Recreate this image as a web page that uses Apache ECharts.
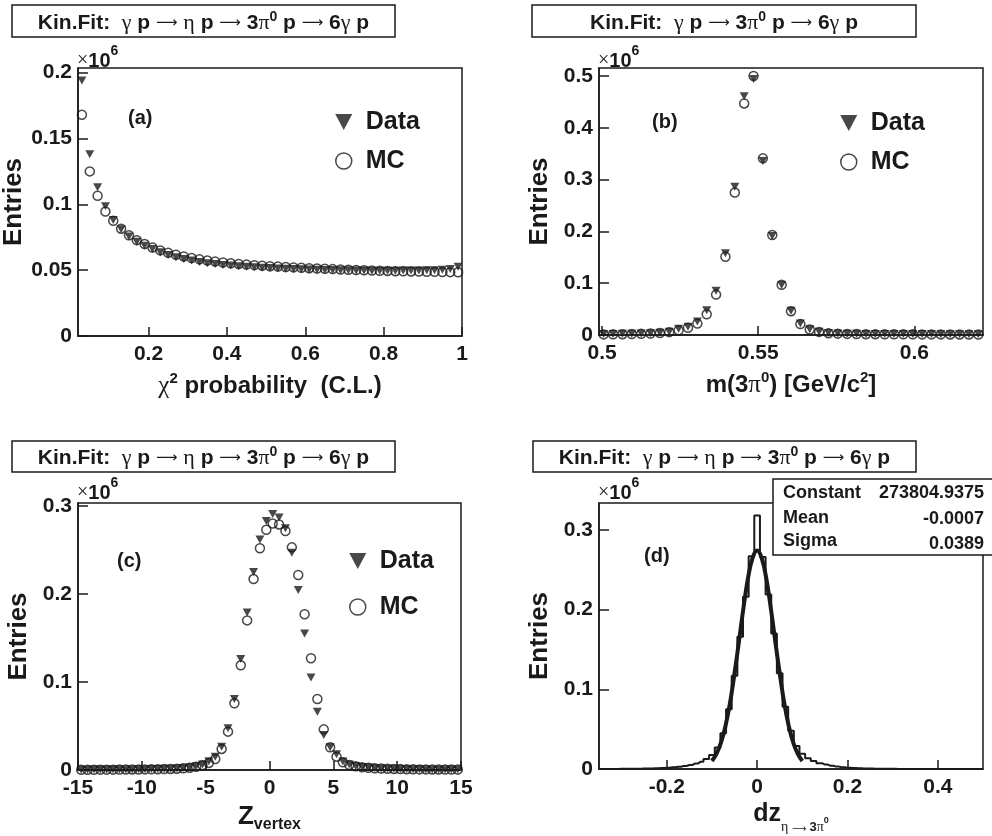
<!DOCTYPE html>
<html><head><meta charset="utf-8">
<script src="https://cdn.jsdelivr.net/npm/echarts@6/dist/echarts.min.js"></script>
<style>html,body{margin:0;padding:0;background:#fff}#c{width:992px;height:836px}</style>
</head><body><div id="c"></div>
<script>
// ---- panel (a): chi2 probability ----
const chiX = [0.03,0.05,0.07,0.09,0.11,0.13,0.15,0.17,0.19,0.21,0.23,0.25,0.27,0.29,0.31,0.33,0.35,0.37,0.39,0.41,0.43,0.45,0.47,0.49,0.51,0.53,0.55,0.57,0.59,0.61,0.63,0.65,0.67,0.69,0.71,0.73,0.75,0.77,0.79,0.81,0.83,0.85,0.87,0.89,0.91,0.93,0.95,0.97,0.99];
const chiData = [0.194,0.138,0.113,0.0985,0.088,0.081,0.0755,0.0715,0.0685,0.066,0.0635,0.0615,0.0598,0.0585,0.0573,0.0562,0.0553,0.0546,0.054,0.0535,0.053,0.0526,0.0522,0.0519,0.0516,0.0513,0.0511,0.0509,0.0507,0.0505,0.0503,0.0502,0.0501,0.05,0.0499,0.0498,0.0497,0.0496,0.0496,0.0496,0.0496,0.0497,0.0497,0.0498,0.0499,0.05,0.0503,0.0508,0.0525];
const chiMC = [0.168,0.125,0.1065,0.0945,0.0875,0.0815,0.0765,0.0728,0.0698,0.0672,0.065,0.0632,0.0617,0.0604,0.0592,0.0582,0.0573,0.0565,0.0558,0.0552,0.0547,0.0542,0.0538,0.0534,0.053,0.0527,0.0524,0.0521,0.0518,0.0515,0.0512,0.051,0.0508,0.0505,0.0503,0.0501,0.0499,0.0497,0.0495,0.0494,0.0492,0.0491,0.049,0.0489,0.0488,0.0487,0.0486,0.0485,0.0484];
const chiXTicks = [0.2,0.4,0.6,0.8,1];
const chiYTicks = [0,0.05,0.1,0.15,0.2];

// ---- panel (b): m(3pi0) ----
const mX = [0.5005,0.5035,0.5065,0.5095,0.5125,0.5155,0.5185,0.5215,0.5245,0.5275,0.5305,0.5335,0.5365,0.5395,0.5425,0.5455,0.5485,0.5515,0.5545,0.5575,0.5605,0.5635,0.5665,0.5695,0.5725,0.5755,0.5785,0.5815,0.5845,0.5875,0.5905,0.5935,0.5965,0.5995,0.6025,0.6055,0.6085,0.6115,0.6145,0.6175,0.6205];
const mData = [0.002,0.002,0.0022,0.0025,0.003,0.0035,0.0045,0.0064,0.012,0.016,0.026,0.048,0.0856,0.158,0.286,0.461,0.494,0.336,0.191,0.0965,0.047,0.022,0.011,0.0065,0.004,0.003,0.0025,0.0022,0.002,0.002,0.002,0.0019,0.0018,0.0018,0.0017,0.0017,0.0016,0.0016,0.0015,0.0015,0.0015];
const mMC = [0.0012,0.0013,0.0015,0.0018,0.0022,0.0028,0.0037,0.0055,0.009,0.014,0.022,0.040,0.078,0.151,0.275,0.447,0.500,0.341,0.193,0.097,0.046,0.021,0.0105,0.006,0.0035,0.0026,0.0021,0.0018,0.0016,0.0015,0.0014,0.0014,0.0013,0.0013,0.0012,0.0012,0.0012,0.0011,0.0011,0.0011,0.001];
const mXTicks = [0.5,0.55,0.6];
const mYTicks = [0,0.1,0.2,0.3,0.4,0.5];

// ---- panel (c): Z vertex ----
const zX = [-14.75,-14.25,-13.75,-13.25,-12.75,-12.25,-11.75,-11.25,-10.75,-10.25,-9.75,-9.25,-8.75,-8.25,-7.75,-7.25,-6.75,-6.25,-5.75,-5.25,-4.75,-4.25,-3.75,-3.25,-2.75,-2.25,-1.75,-1.25,-0.75,-0.25,0.25,0.75,1.25,1.75,2.25,2.75,3.25,3.75,4.25,4.75,5.25,5.75,6.25,6.75,7.25,7.75,8.25,8.75,9.25,9.75,10.25,10.75,11.25,11.75,12.25,12.75,13.25,13.75,14.25,14.75];
const zData = [0.0004,0.0004,0.0005,0.0005,0.0005,0.0006,0.0006,0.0007,0.0007,0.0008,0.0009,0.001,0.0011,0.0013,0.0015,0.0018,0.0023,0.003,0.0042,0.0062,0.01,0.0151,0.0265,0.0473,0.0807,0.126,0.179,0.225,0.262,0.283,0.291,0.287,0.2746,0.247,0.2045,0.155,0.105,0.0663,0.0398,0.0258,0.0178,0.0098,0.0062,0.0045,0.0034,0.0027,0.0022,0.0018,0.0015,0.0013,0.0011,0.001,0.0009,0.0008,0.0007,0.0007,0.0006,0.0006,0.0005,0.0005];
const zMC = [0.0003,0.0003,0.0003,0.0004,0.0004,0.0004,0.0005,0.0005,0.0006,0.0006,0.0007,0.0008,0.0009,0.001,0.0012,0.0015,0.0019,0.0026,0.0037,0.0055,0.008,0.0125,0.0239,0.0436,0.0758,0.119,0.17,0.217,0.252,0.273,0.28,0.279,0.2716,0.253,0.2216,0.177,0.127,0.0807,0.0462,0.0258,0.0151,0.0087,0.0058,0.0042,0.0032,0.0025,0.002,0.0017,0.0014,0.0012,0.001,0.0009,0.0008,0.0007,0.0007,0.0006,0.0006,0.0005,0.0005,0.0005];
const zXTicks = [-15,-10,-5,0,5,10,15];
const zYTicks = [0,0.1,0.2,0.3];

// ---- panel (d): dz histogram + gaussian fit ----
const dzX = [-0.35,-0.3375,-0.325,-0.3125,-0.3,-0.2875,-0.275,-0.2625,-0.25,-0.2375,-0.225,-0.2125,-0.2,-0.1875,-0.175,-0.1625,-0.15,-0.1375,-0.125,-0.1125,-0.1,-0.0875,-0.075,-0.0625,-0.05,-0.0375,-0.025,-0.0125,0,0.0125,0.025,0.0375,0.05,0.0625,0.075,0.0875,0.1,0.1125,0.125,0.1375,0.15,0.1625,0.175,0.1875,0.2,0.2125,0.225,0.2375,0.25,0.2625,0.275,0.2875,0.3,0.3125,0.325,0.3375,0.35,0.3625,0.375,0.3875,0.4,0.4125,0.425,0.4375,0.45,0.4625,0.475,0.4875,0.5];
const dzHist = [0,0.0001,0.0001,0.0001,0.0002,0.0002,0.0003,0.0004,0.0005,0.0007,0.0009,0.0012,0.0016,0.0021,0.0028,0.0037,0.005,0.0068,0.0092,0.0125,0.0175,0.027,0.045,0.075,0.117,0.166,0.216,0.267,0.318,0.266,0.219,0.17,0.12,0.078,0.048,0.029,0.019,0.0135,0.01,0.0073,0.0055,0.0041,0.003,0.0022,0.0016,0.0012,0.0009,0.0007,0.0005,0.0004,0.0003,0.0002,0.0002,0.0001,0.0001,0.0001,0.0001,0.0001,0,0,0,0,0,0,0,0,0,0,0];
const fitX = [-0.1,-0.09,-0.08,-0.07,-0.06,-0.05,-0.04,-0.03,-0.02,-0.01,0,0.01,0.02,0.03,0.04,0.05,0.06,0.07,0.08,0.09,0.1];
const fitY = [0.010,0.019,0.033,0.054,0.083,0.120,0.161,0.203,0.240,0.265,0.274,0.265,0.240,0.203,0.161,0.120,0.083,0.054,0.033,0.019,0.010];
const dzXTicks = [-0.2,0,0.2,0.4];
const dzYTicks = [0,0.1,0.2,0.3];
const fitParams = [['Constant','273804.9375'],['Mean','-0.0007'],['Sigma','0.0389']];

const INK = '#1a1a1a';
const SANS = 'Liberation Sans, Arial, Helvetica, sans-serif';
const SERIF = 'Liberation Serif, Times New Roman, serif';
const ARROW = 'DejaVu Sans, sans-serif';
const zip = (xs, ys) => xs.map((x, i) => [x, ys[i]]);

const nameRich = {
  b: {fontFamily: SANS, fontWeight: 'bold', fontSize: 24, lineHeight: 30, color: INK},
  g: {fontFamily: SERIF, fontSize: 25, lineHeight: 30, color: INK},
  s: {fontFamily: SANS, fontWeight: 'bold', fontSize: 15, lineHeight: 10, verticalAlign: 'top', color: INK},
  z: {fontFamily: SANS, fontWeight: 'bold', fontSize: 26, lineHeight: 32, color: INK},
  sub: {fontFamily: SANS, fontWeight: 'bold', fontSize: 16, lineHeight: 14, verticalAlign: 'bottom', color: INK},
  d: {fontFamily: SANS, fontWeight: 'bold', fontSize: 25, lineHeight: 40, color: INK},
  sg: {fontFamily: SERIF, fontSize: 14, lineHeight: 14, verticalAlign: 'bottom', color: INK},
  sa: {fontFamily: ARROW, fontSize: 10, lineHeight: 14, verticalAlign: 'bottom', color: INK},
  sb: {fontFamily: SANS, fontWeight: 'bold', fontSize: 13, lineHeight: 14, verticalAlign: 'bottom', color: INK},
  ss: {fontFamily: SANS, fontWeight: 'bold', fontSize: 9, lineHeight: 26, height: 26, verticalAlign: 'bottom', color: INK}
};

function xAxis(gi, min, max, ticks, name, gap) {
  return {
    type: 'value', gridIndex: gi, min, max,
    axisLine: {show: true, onZero: false, lineStyle: {color: INK, width: 1.5}},
    axisTick: {show: true, inside: true, length: 9, customValues: ticks, lineStyle: {color: INK, width: 1.5}},
    axisLabel: {customValues: ticks, margin: 8, color: INK, fontFamily: SANS, fontWeight: 'bold', fontSize: 21},
    splitLine: {show: false},
    name, nameLocation: 'middle', nameGap: gap,
    nameTextStyle: {rich: nameRich}
  };
}
function yAxis(gi, max, ticks) {
  return {
    type: 'value', gridIndex: gi, min: 0, max,
    axisLine: {show: true, onZero: false, lineStyle: {color: INK, width: 1.5}},
    axisTick: {show: true, inside: true, length: 10, customValues: ticks, lineStyle: {color: INK, width: 1.5}},
    axisLabel: {customValues: ticks, margin: 6, color: INK, fontFamily: SANS, fontWeight: 'bold', fontSize: 21},
    splitLine: {show: false},
    name: 'Entries', nameLocation: 'middle', nameGap: 46,
    nameTextStyle: {color: INK, fontFamily: SANS, fontWeight: 'bold', fontSize: 26}
  };
}
function dataSeries(gi, xs, ys) {
  return {name: 'Data', type: 'scatter', xAxisIndex: gi, yAxisIndex: gi, data: zip(xs, ys),
    symbol: 'triangle', symbolRotate: 180, symbolSize: [9, 8], itemStyle: {color: INK}, silent: true, z: 3};
}
function mcSeries(gi, xs, ys) {
  return {name: 'MC', type: 'scatter', xAxisIndex: gi, yAxisIndex: gi, data: zip(xs, ys),
    symbol: 'circle', symbolSize: 9, itemStyle: {color: 'rgba(0,0,0,0)', borderColor: INK, borderWidth: 1.5}, silent: true, z: 4};
}
function legend(left, top, gap) {
  return {
    left, top, orient: 'vertical', itemWidth: 34, itemHeight: 16, itemGap: gap, selectedMode: false,
    textStyle: {color: INK, fontFamily: SANS, fontWeight: 'bold', fontSize: 25, lineHeight: 26},
    data: [
      {name: 'Data', icon: 'path://M0,0L16,0L8,15Z', itemStyle: {color: INK}},
      {name: 'MC', icon: 'circle', itemStyle: {color: 'rgba(0,0,0,0)', borderColor: INK, borderWidth: 1.5}}
    ]
  };
}

const tRich = {
  b: {fontFamily: SANS, fontWeight: 'bold', fontSize: 21, lineHeight: 26, fill: INK},
  g: {fontFamily: SERIF, fontSize: 22, lineHeight: 26, fill: INK},
  a: {fontFamily: ARROW, fontSize: 15, lineHeight: 26, fill: INK},
  s: {fontFamily: SANS, fontWeight: 'bold', fontSize: 14, lineHeight: 13, verticalAlign: 'top', fill: INK}
};
const titleA = '{b|Kin.Fit:  }{g|γ}{b| p }{a|⟶}{b| }{g|η}{b| p }{a|⟶}{b| 3}{g|π}{s|0}{b| p }{a|⟶}{b| 6}{g|γ}{b| p}';
const titleB = '{b|Kin.Fit:  }{g|γ}{b| p }{a|⟶}{b| 3}{g|π}{s|0}{b| p }{a|⟶}{b| 6}{g|γ}{b| p}';

function titleBox(x, y, w, h, text) {
  return [
    {type: 'rect', shape: {x, y, width: w, height: h}, style: {fill: '#fff', stroke: INK, lineWidth: 1.5}},
    {type: 'text', x: x + w / 2, y: y + h / 2 + 2, style: {text, rich: tRich, align: 'center', verticalAlign: 'middle', textAlign: 'center', textVerticalAlign: 'middle'}}
  ];
}
const eRich = {
  m: {fontFamily: SERIF, fontSize: 20, lineHeight: 34, fill: INK},
  b: {fontFamily: SANS, fontWeight: 'bold', fontSize: 20, lineHeight: 34, fill: INK},
  s: {fontFamily: SANS, fontWeight: 'bold', fontSize: 14, lineHeight: 8, verticalAlign: 'top', fill: INK}
};
function expo(x, y) {
  return {type: 'text', x, y, style: {text: '{m|×}{b|10}{s|6}', rich: eRich, align: 'left', verticalAlign: 'middle', textAlign: 'left', textVerticalAlign: 'middle'}};
}
function plain(x, y, text, size, align) {
  return {type: 'text', x, y, z: 101, style: {text, fill: INK, font: 'bold ' + size + 'px ' + SANS, align: align || 'left', verticalAlign: 'middle', textAlign: align || 'left', textVerticalAlign: 'middle'}};
}

const graphics = [].concat(
  titleBox(12, 5, 383, 32, titleA),
  titleBox(532, 5, 384, 32, titleB),
  titleBox(12, 441, 383, 31, titleA),
  titleBox(533, 441, 383, 31, titleA),
  [expo(77, 61), expo(598, 61), expo(77, 493), expo(598, 493)],
  [plain(128, 118, '(a)', 20), plain(652, 122, '(b)', 20), plain(117, 561, '(c)', 20), plain(644, 556, '(d)', 20)],
  [{type: 'rect', z: 100, shape: {x: 773, y: 479, width: 230, height: 76}, style: {fill: '#fff', stroke: INK, lineWidth: 1.5}}],
  fitParams.map((p, i) => plain(783, [493, 518, 541][i], p[0], 18)),
  fitParams.map((p, i) => plain(984, [493, 519, 544][i], p[1], 18, 'right'))
);

const option = {
  animation: false,
  backgroundColor: '#fff',
  grid: [
    {left: 78, top: 68, width: 384, height: 268, show: true, borderColor: INK, borderWidth: 1.5},
    {left: 599, top: 68, width: 384, height: 267, show: true, borderColor: INK, borderWidth: 1.5},
    {left: 78, top: 503, width: 383, height: 267, show: true, borderColor: INK, borderWidth: 1.5},
    {left: 599, top: 503, width: 384, height: 266, show: true, borderColor: INK, borderWidth: 1.5}
  ],
  xAxis: [
    xAxis(0, 0.02, 1, chiXTicks, '{g|χ}{s|2}{b| probability  (C.L.)}', 35),
    xAxis(1, 0.499, 0.622, mXTicks, '{b|m(3}{g|π}{s|0}{b|) [GeV/c}{s|2}{b|]}', 35),
    xAxis(2, -15, 15, zXTicks, '{z|Z}{sub|vertex}', 31),
    xAxis(3, -0.35, 0.5, dzXTicks, '{d|dz}{sg|η }{sa|⟶ }{sb|3}{sg|π}{ss|0}', 25)
  ],
  yAxis: [
    yAxis(0, 0.2035, chiYTicks),
    yAxis(1, 0.5154, mYTicks),
    yAxis(2, 0.3034, zYTicks),
    yAxis(3, 0.3337, dzYTicks)
  ],
  legend: [legend(330, 104, 13), legend(835, 105, 13), legend(344, 543, 20)],
  series: [
    dataSeries(0, chiX, chiData), mcSeries(0, chiX, chiMC),
    dataSeries(1, mX, mData), mcSeries(1, mX, mMC),
    dataSeries(2, zX, zData), mcSeries(2, zX, zMC),
    {name: 'dz', type: 'line', xAxisIndex: 3, yAxisIndex: 3, data: zip(dzX, dzHist), step: 'middle',
      showSymbol: false, symbol: 'none', lineStyle: {color: INK, width: 2}, silent: true, z: 3},
    {name: 'Gaussian fit', type: 'line', xAxisIndex: 3, yAxisIndex: 3, data: zip(fitX, fitY), smooth: 0.4,
      showSymbol: false, symbol: 'none', lineStyle: {color: INK, width: 4}, silent: true, z: 4}
  ],
  graphic: {elements: graphics}
};
const chart = echarts.init(document.getElementById('c'), null, {renderer: 'canvas'});
chart.setOption(option);
</script></body></html>
